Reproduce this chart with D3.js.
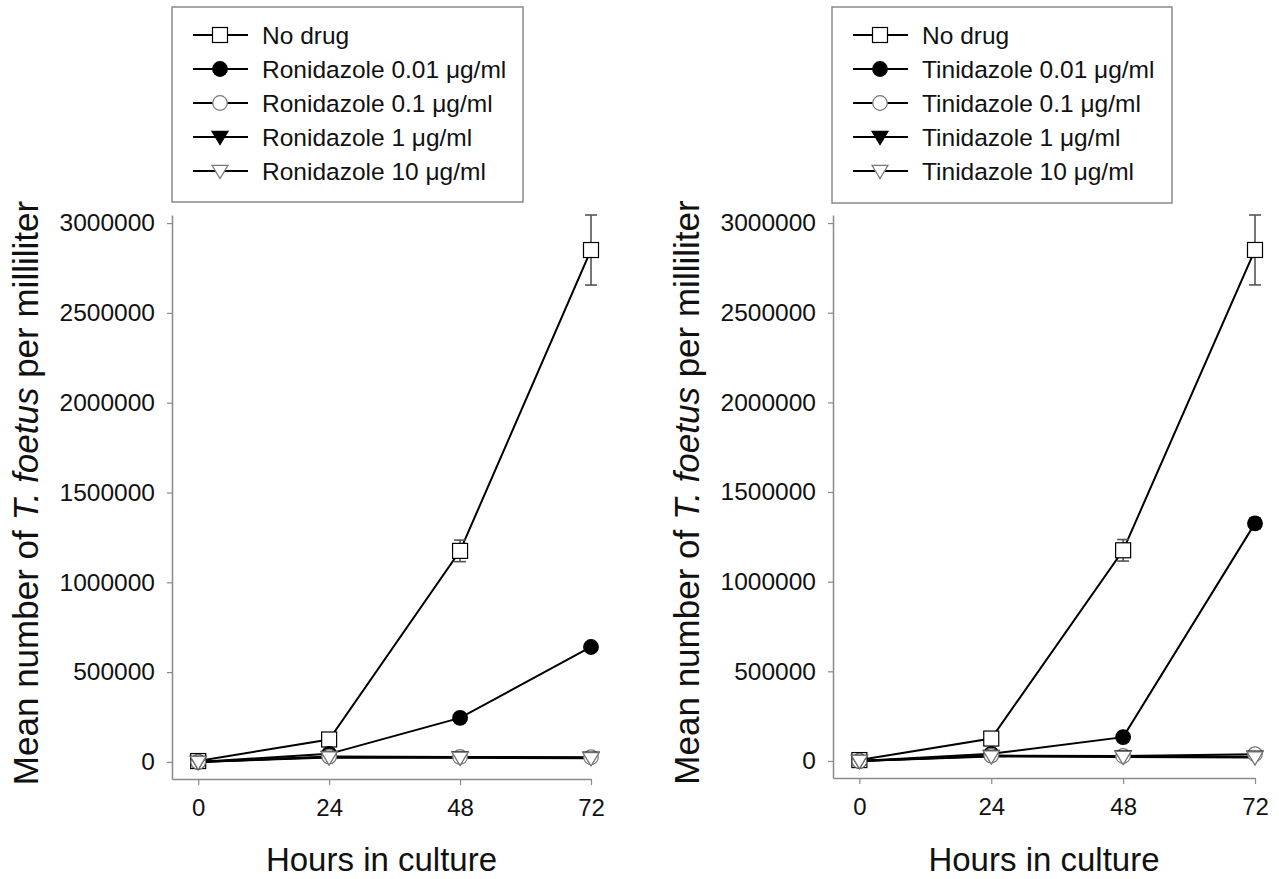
<!DOCTYPE html>
<html>
<head>
<meta charset="utf-8">
<script src="https://cdn.jsdelivr.net/npm/d3@7"></script>
<style>
  html, body { margin: 0; padding: 0; background: #fff; }
  svg { display: block; font-family: "Liberation Sans", Arial, Helvetica, sans-serif; }
</style>
</head>
<body>
<svg id="chart" width="1279" height="879"></svg>
<script>
// ---------- data ----------
const hours = [0, 24, 48, 72];
const xTickValues = [0, 24, 48, 72];
const yTickValues = [0, 500000, 1000000, 1500000, 2000000, 2500000, 3000000];

const seriesKeys = ["none", "c001", "c01", "c1", "c10"];
const markerTypes = ["square", "circleFilled", "circleOpen", "triFilled", "triOpen"];

// Left panel: Ronidazole
const ronLabels = ["No drug", "Ronidazole 0.01 \u03bcg/ml", "Ronidazole 0.1 \u03bcg/ml", "Ronidazole 1 \u03bcg/ml", "Ronidazole 10 \u03bcg/ml"];
const ronNoDrug = [5000, 125000, 1175000, 2850000];
const ronNoDrugErr = [0, 0, 60000, 195000];
const ron001 = [0, 45000, 245000, 640000];
const ron001Err = [0, 0, 0, 0];
const ron01 = [0, 30000, 28000, 26000];
const ron1 = [0, 28000, 25000, 23000];
const ron10 = [0, 25000, 23000, 20000];

// Right panel: Tinidazole
const tinLabels = ["No drug", "Tinidazole 0.01 \u03bcg/ml", "Tinidazole 0.1 \u03bcg/ml", "Tinidazole 1 \u03bcg/ml", "Tinidazole 10 \u03bcg/ml"];
const tinNoDrug = [5000, 125000, 1175000, 2850000];
const tinNoDrugErr = [0, 0, 60000, 195000];
const tin001 = [0, 40000, 133000, 1325000];
const tin001Err = [0, 0, 0, 30000];
const tin01 = [0, 30000, 28000, 38000];
const tin1 = [0, 28000, 25000, 24000];
const tin10 = [0, 25000, 22000, 20000];

const xDomain = [-4.8, 72];
const yDomain = [-95000, 3045000];

// ---------- drawing ----------
const svg = d3.select("#chart");
const FONT = 24;
const AXIS_COLOR = "#8a8a8a";

function drawMarker(g, type, x, y) {
  const s = 7.5;
  if (type === "square") {
    g.append("rect").attr("x", x - s).attr("y", y - s).attr("width", 2 * s).attr("height", 2 * s)
      .attr("fill", "#fff").attr("stroke", "#000").attr("stroke-width", 1.2);
  } else if (type === "circleFilled" || type === "circleOpen") {
    g.append("circle").attr("cx", x).attr("cy", y).attr("r", 7.3)
      .attr("fill", type === "circleFilled" ? "#000" : "#fff").attr("stroke", type === "circleFilled" ? "#000" : "#777").attr("stroke-width", 1.2);
  } else {
    const t = 8;
    const pts = [[x - t, y - t * 0.7], [x + t, y - t * 0.7], [x, y + t * 0.95]];
    g.append("path").attr("d", d3.line()(pts) + "Z")
      .attr("fill", type === "triFilled" ? "#000" : "#fff").attr("stroke", type === "triFilled" ? "#000" : "#777").attr("stroke-width", 1.2);
  }
}

function panel(opts) {
  const { xRange, yRange, labels, series, errs, legendBox, titleX } = opts;
  const x = d3.scaleLinear().domain(xDomain).range(xRange);
  const y = d3.scaleLinear().domain(yDomain).range(yRange);
  const g = svg.append("g");

  // axes
  const yAxis = d3.axisLeft(y).tickValues(yTickValues).tickFormat(d3.format("d")).tickSizeInner(5).tickSizeOuter(0).tickPadding(12);
  const ya = g.append("g").attr("transform", `translate(${xRange[0]},0)`).call(yAxis);
  ya.select(".domain").attr("stroke", AXIS_COLOR).attr("stroke-width", 1.5);
  ya.selectAll(".tick line").attr("stroke", AXIS_COLOR).attr("stroke-width", 1.2);
  ya.selectAll(".tick text").attr("font-size", 24.5).attr("fill", "#111").attr("font-family", "Liberation Sans, Arial, sans-serif");

  const xAxis = d3.axisBottom(x).tickValues(xTickValues).tickSizeInner(6).tickSizeOuter(0).tickPadding(14);
  const xa = g.append("g").attr("transform", `translate(0,${yRange[0]})`).call(xAxis);
  xa.select(".domain").attr("stroke", AXIS_COLOR).attr("stroke-width", 1.5);
  xa.selectAll(".tick line").attr("stroke", AXIS_COLOR).attr("stroke-width", 1.2);
  xa.selectAll(".tick text").attr("font-size", FONT).attr("fill", "#111").attr("font-family", "Liberation Sans, Arial, sans-serif");

  // axis titles
  const yMid = (yRange[0] + yRange[1]) / 2;
  const yt = g.append("text").attr("transform", `translate(${titleX},${yMid - 4}) rotate(-90)`)
    .attr("text-anchor", "middle").attr("font-size", 35).attr("fill", "#111");
  yt.append("tspan").text("Mean number of ");
  yt.append("tspan").attr("font-style", "italic").text("T. foetus");
  yt.append("tspan").text(" per milliliter");

  g.append("text").attr("x", (xRange[0] + xRange[1]) / 2).attr("y", 871)
    .attr("text-anchor", "middle").attr("font-size", 33).attr("fill", "#111").text("Hours in culture");

  // lines
  const line = d3.line().x((d, i) => x(hours[i])).y(d => y(d));
  series.forEach((s) => {
    g.append("path").attr("d", line(s)).attr("fill", "none").attr("stroke", "#000").attr("stroke-width", 2);
  });

  // error bars
  series.forEach((s, k) => {
    const e = errs[k];
    if (!e) return;
    s.forEach((v, i) => {
      if (!e[i]) return;
      const cx = x(hours[i]);
      const eg = g.append("g").attr("stroke", "#555").attr("stroke-width", 1.6);
      eg.append("line").attr("x1", cx).attr("x2", cx).attr("y1", y(v - e[i])).attr("y2", y(v + e[i]));
      eg.append("line").attr("x1", cx - 6).attr("x2", cx + 6).attr("y1", y(v + e[i])).attr("y2", y(v + e[i]));
      eg.append("line").attr("x1", cx - 6).attr("x2", cx + 6).attr("y1", y(v - e[i])).attr("y2", y(v - e[i]));
    });
  });

  // markers
  series.forEach((s, k) => {
    s.forEach((v, i) => drawMarker(g, markerTypes[k], x(hours[i]), y(v)));
  });

  // legend
  const lg = g.append("g");
  lg.append("rect").attr("x", legendBox.x).attr("y", legendBox.y).attr("width", legendBox.w).attr("height", legendBox.h)
    .attr("fill", "#fff").attr("stroke", "#8a8a8a").attr("stroke-width", 1.5);
  labels.forEach((lab, k) => {
    const ry = legendBox.y + 28 + k * 34;
    lg.append("line").attr("x1", legendBox.x + 21).attr("x2", legendBox.x + 76).attr("y1", ry).attr("y2", ry)
      .attr("stroke", "#000").attr("stroke-width", 2);
    drawMarker(lg, markerTypes[k], legendBox.x + 48, ry);
    lg.append("text").attr("x", legendBox.x + 90).attr("y", ry).attr("dy", "0.35em")
      .attr("font-size", 24.5).attr("fill", "#111").text(lab);
  });
}

panel({
  xRange: [172, 591], yRange: [779, 215],
  labels: ronLabels,
  series: [ronNoDrug, ron001, ron01, ron1, ron10],
  errs: [ronNoDrugErr, ron001Err, null, null, null],
  legendBox: { x: 172, y: 7, w: 351, h: 195 },
  titleX: 38
});

panel({
  xRange: [833, 1255], yRange: [778, 215],
  labels: tinLabels,
  series: [tinNoDrug, tin001, tin01, tin1, tin10],
  errs: [tinNoDrugErr, tin001Err, null, null, null],
  legendBox: { x: 832, y: 7, w: 340, h: 196 },
  titleX: 699
});
</script>
</body>
</html>
